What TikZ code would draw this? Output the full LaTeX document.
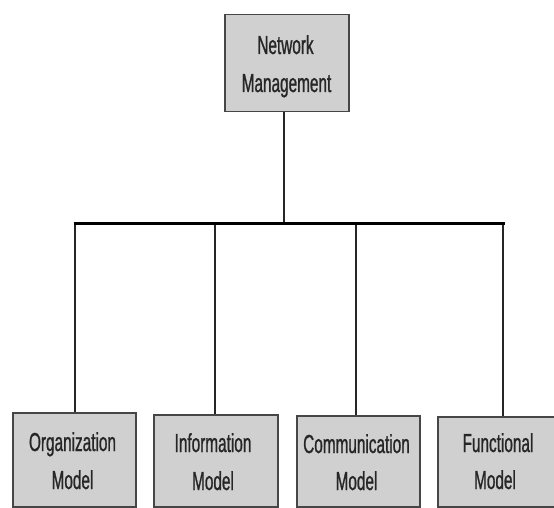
\documentclass[tikz,border=0pt]{standalone}
\usepackage{fontspec}
\newfontfamily\narrowsans[FakeStretch=0.59,FakeBold=0.9]{Liberation Sans}
\definecolor{boxfill}{RGB}{208,208,208}
\definecolor{boxline}{RGB}{70,70,70}
\begin{document}
\begin{tikzpicture}[x=1pt,y=-1pt,
  box/.style={draw=boxline, line width=1.5pt, fill=boxfill, anchor=north west, inner sep=0pt},
  lbl/.style={font=\narrowsans\fontsize{26}{30}\selectfont, text=black!85, anchor=base, inner sep=0pt},
  conn/.style={draw=black!85, line width=1.8pt},
  bus/.style={draw=black, line width=3pt}]
\useasboundingbox (0,0) rectangle (554,508);
% top box
\node[box, minimum width=124pt, minimum height=97pt] (nm) at (224,14) {};
\node[lbl] (nm1) at (285.5,54) {Network};
\node[lbl] (nm2) at (286.5,92) {Management};
% bottom boxes
\node[box, minimum width=123pt, minimum height=94pt] (org) at (12,412) {};
\node[box, minimum width=124pt, minimum height=92pt] (inf) at (153,414) {};
\node[box, minimum width=123pt, minimum height=91pt] (com) at (296,415) {};
\node[box, minimum width=124pt, minimum height=90pt] (fun) at (437,416) {};
\node[lbl] (org1) at (72.5,451) {Organization};
\node[lbl] (org2) at (72.5,489) {Model};
\node[lbl] (inf1) at (213,452) {Information};
\node[lbl] (inf2) at (213,490) {Model};
\node[lbl] (com1) at (356.5,453) {Communication};
\node[lbl] (com2) at (356.5,490) {Model};
\node[lbl] (fun1) at (498,452) {Functional};
\node[lbl] (fun2) at (495,489) {Model};
% bus coordinates
\coordinate (top) at (284,223);
\coordinate (j1) at (75,223);
\coordinate (j2) at (215,223);
\coordinate (j3) at (356,223);
\coordinate (j4) at (503,223);
% connectors
\draw[conn] (nm.south -| top) -- (top);
\draw[conn] (j1) -- (j1 |- org.north);
\draw[conn] (j2) -- (j2 |- inf.north);
\draw[conn] (j3) -- (j3 |- com.north);
\draw[conn] (j4) -- (j4 |- fun.north);
\draw[bus] ([xshift=-1.5pt]j1) -- ([xshift=1.5pt]j4);
\end{tikzpicture}
\end{document}
